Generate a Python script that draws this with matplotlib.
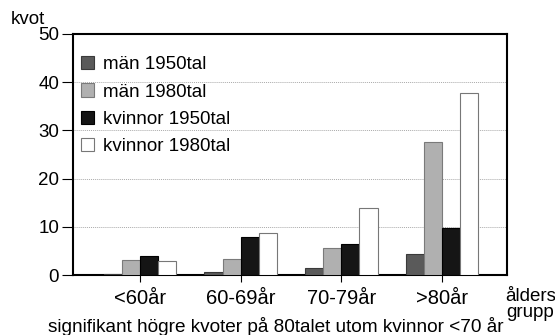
import matplotlib
matplotlib.use("Agg")
import matplotlib.pyplot as plt
import numpy as np

plt.rcParams['font.family'] = ['Liberation Sans', 'DejaVu Sans']

categories = ["<60år", "60-69år", "70-79år", ">80år"]
series_names = ["män 1950tal", "män 1980tal", "kvinnor 1950tal", "kvinnor 1980tal"]
man_1950 = [0.3, 0.7, 1.4, 4.4]
man_1980 = [3.1, 3.3, 5.7, 27.6]
kvinnor_1950 = [4.0, 7.9, 6.4, 9.8]
kvinnor_1980 = [2.9, 8.7, 13.9, 37.8]
yticks = [0, 10, 20, 30, 40, 50]

series = [man_1950, man_1980, kvinnor_1950, kvinnor_1980]
colors = ["#5a5a5a", "#b0b0b0", "#151515", "#ffffff"]
edges = ["#3a3a3a", "#7a7a7a", "#000000", "#777777"]

fig = plt.figure(figsize=(5.55, 3.35), dpi=100)
ax = fig.add_axes([73/555, 1-275/335, (507-73)/555, (275-34)/335])

x = np.arange(len(categories))
w = 0.18
for i, (vals, c, e, name) in enumerate(zip(series, colors, edges, series_names)):
    ax.bar(x + (i - 1.5) * w, vals, width=w, color=c, edgecolor=e, linewidth=0.8,
           label=name, zorder=3)

ax.set_xlim(-0.665, 3.645)
ax.set_ylim(0, 50)
ax.set_yticks(yticks)
ax.set_yticklabels([str(v) for v in yticks], fontsize=13.5)
ax.set_xticks(x)
ax.set_xticklabels(categories, fontsize=14.5)
ax.tick_params(axis='y', length=8, width=0.8, pad=2)
ax.tick_params(axis='x', length=5, width=0.8, pad=5)
ax.yaxis.grid(True, linestyle=(0, (1, 1)), color="#aaaaaa", linewidth=0.7, zorder=0)
for s in ax.spines.values():
    s.set_linewidth(1.5)

leg = ax.legend(loc="upper left", frameon=False, fontsize=13.5, handlelength=0.7,
                handleheight=0.7, handletextpad=0.5, labelspacing=0.55,
                borderaxespad=0.2, borderpad=0.2, bbox_to_anchor=(0.0, 0.94))

fig.text(11/555, 1-19/335, "kvot", fontsize=13.5, ha="left", va="center")
fig.text(505/555, 1-301/335, "ålders", fontsize=13.5, ha="left", va="baseline")
fig.text(506/555, 1-317/335, "grupp", fontsize=13.5, ha="left", va="baseline")
fig.text(276/555, 1-332/335, "signifikant högre kvoter på 80talet utom kvinnor <70 år",
         fontsize=13.7, ha="center", va="baseline")

fig.savefig("out.png", dpi=100)
